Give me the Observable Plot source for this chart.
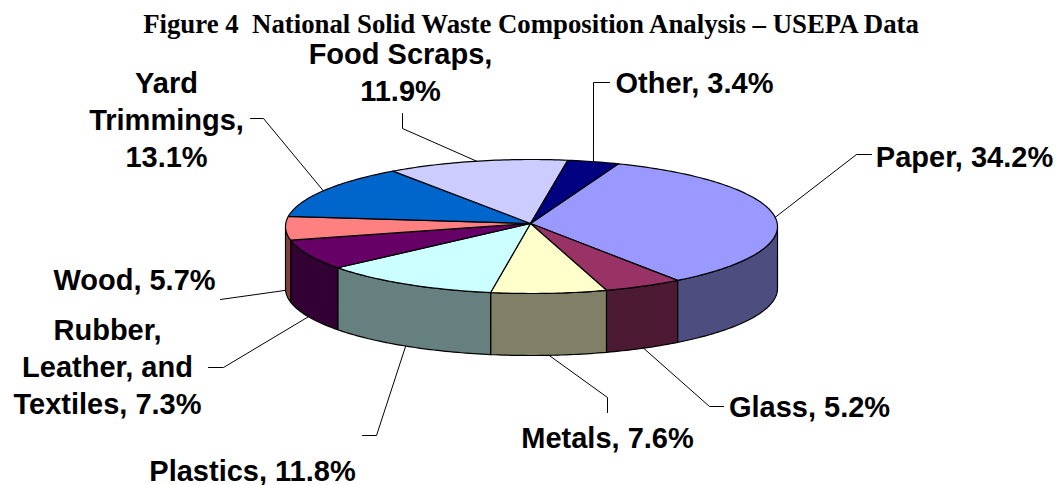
<!DOCTYPE html>
<html>
<head>
<meta charset="utf-8">
<script src="https://cdn.jsdelivr.net/npm/d3@7"></script>
<script src="https://cdn.jsdelivr.net/npm/@observablehq/plot@0.6"></script>
<style>
  html, body { margin: 0; padding: 0; background: #fff; }
  #chart svg { display: block; }
</style>
</head>
<body>
<div id="chart"></div>
<script>
// ---- data ----
const title = "Figure 4  National Solid Waste Composition Analysis \u2013 USEPA Data";
const categories = ["Paper", "Glass", "Metals", "Plastics", "Rubber, Leather, and Textiles", "Wood", "Yard Trimmings", "Food Scraps", "Other"];
const shares = [34.2, 5.2, 7.6, 11.8, 7.3, 5.7, 13.1, 11.9, 3.4];
const labelTexts = ["Paper, 34.2%", "Glass, 5.2%", "Metals, 7.6%", "Plastics, 11.8%", "Rubber,\nLeather, and\nTextiles, 7.3%", "Wood, 5.7%", "Yard\nTrimmings,\n13.1%", "Food Scraps,\n11.9%", "Other, 3.4%"];
const topColors = ["#9999FF", "#993366", "#FFFFCC", "#CCFFFF", "#660066", "#FF8080", "#0066CC", "#CCCCFF", "#000080"];

// ---- layout (pixels) ----
const W = 1057, H = 485;
const CX = 531, CY = 226, RX = 246, RY = 67, DEPTH = 62;
const APEX = [530, 223]; // perspective apex of the top face
const START = 20.7; // first slice start, degrees clockwise from 12 o'clock
const labelLayout = [
  {at: [964, 166], elbow: [[856, 154], [871, 154]]},
  {at: [809, 416], elbow: [[709, 406], [723, 406]]},
  {at: [607, 447], elbow: [[607, 397], [607, 412]]},
  {at: [252, 480], elbow: [[376, 435], [362, 435]]},
  {at: [107, 413], elbow: [[223, 367], [208, 367]]},
  {at: [134, 289], elbow: [[220, 299]]},
  {at: [166, 166], elbow: [[263, 118], [250, 118]]},
  {at: [400, 100], elbow: [[402, 128], [402, 113]]},
  {at: [694, 92], elbow: [[593, 82], [609, 82]]}
];

// ---- geometry in unit-ellipse coordinates ----
const D = DEPTH / RY;
const ux = px => (px - CX) / RX;
const uy = py => (py - CY) / RY;
const half = c => { const k = d3.rgb(c); return d3.rgb(k.r / 2, k.g / 2, k.b / 2).formatHex(); };
const total = d3.sum(shares);
let acc = START;
const slices = shares.map((v, i) => {
  const a0 = acc; acc += v / total * 360;
  return {i, a0, a1: acc, mid: (a0 + acc) / 2};
});
function pt(deg, drop = 0) {
  const r = deg * Math.PI / 180;
  return {x: Math.sin(r), y: -Math.cos(r) + drop};
}
function arc(a0, a1, drop) {
  const n = Math.max(2, Math.ceil(Math.abs(a1 - a0)));
  return d3.range(n + 1).map(k => pt(a0 + (a1 - a0) * k / n, drop));
}

const wallPts = [];
const topPts = [];
const apex = {x: ux(APEX[0]), y: uy(APEX[1])};
for (const s of slices) {
  const lo = Math.max(s.a0, 90), hi = Math.min(s.a1, 270);
  if (lo < hi) {
    const poly = [...arc(lo, hi, 0), ...arc(hi, lo, D)];
    poly.forEach(p => wallPts.push({...p, id: s.i, fill: half(topColors[s.i])}));
  }
  const poly = [apex, ...arc(s.a0, s.a1, 0)];
  poly.forEach(p => topPts.push({...p, id: s.i, fill: topColors[s.i]}));
}

const leaderPts = [];
const labels = [];
slices.forEach((s, i) => {
  const m = ((s.mid % 360) + 360) % 360;
  const front = m > 90 && m < 270;
  const start = pt(m, front ? D : 0);
  leaderPts.push({...start, id: i});
  labelLayout[i].elbow.forEach(([px, py]) => leaderPts.push({x: ux(px), y: uy(py), id: i}));
  labels.push({x: ux(labelLayout[i].at[0]), y: uy(labelLayout[i].at[1]), text: labelTexts[i], cat: categories[i]});
});

const chart = Plot.plot({
  width: W,
  height: H,
  margin: 0,
  x: {domain: [-1, 1], range: [CX - RX, CX + RX], axis: null},
  y: {domain: [-1, 1], range: [CY - RY, CY + RY], axis: null},
  color: {type: "identity"},
  marks: [
    Plot.line(wallPts, {x: "x", y: "y", z: "id", fill: "fill", stroke: "#000", strokeWidth: 1.2, strokeLinejoin: "round", curve: "linear-closed"}),
    Plot.line(topPts, {x: "x", y: "y", z: "id", fill: "fill", stroke: "#000", strokeWidth: 1.2, strokeLinejoin: "round", curve: "linear-closed"}),
    Plot.line(leaderPts, {x: "x", y: "y", z: "id", stroke: "#000", strokeWidth: 1}),
    Plot.text(labels, {x: "x", y: "y", text: "text", fontSize: 29, fontWeight: "bold",
      fontFamily: "'Liberation Sans', Arial, sans-serif", lineAnchor: "bottom", lineHeight: 1.26, textAnchor: "middle", fill: "#000"}),
    Plot.text([title], {frameAnchor: "top", dx: 2, dy: 13, fontSize: 26.8, fontWeight: "bold",
      fontFamily: "'Liberation Serif', 'Times New Roman', serif", fill: "#000"})
  ]
});
document.getElementById("chart").appendChild(chart);
</script>
</body>
</html>
